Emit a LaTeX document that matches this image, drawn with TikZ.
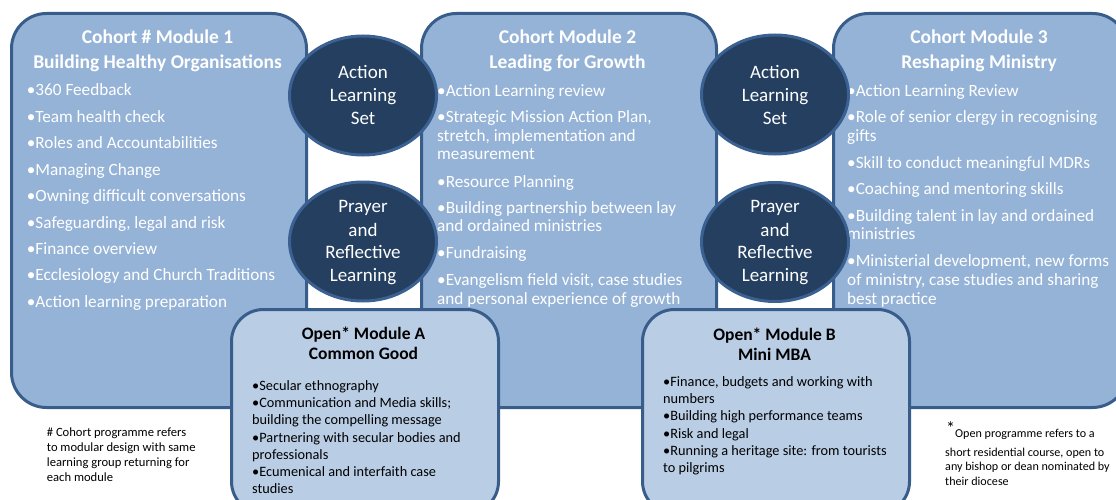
\documentclass[tikz,border=0pt]{standalone}
\usepackage{fontspec}
\setmainfont{Carlito}
\usetikzlibrary{shapes.geometric}
\definecolor{boxfill}{HTML}{95B3D7}
\definecolor{boxbord}{HTML}{385D8A}
\definecolor{ovalfill}{HTML}{243F60}
\definecolor{ovalbord}{HTML}{3A6191}
\definecolor{openfill}{HTML}{B9CDE5}
\tikzset{
  bigbox/.style={rectangle, rounded corners=35pt, draw=boxbord, fill=boxfill, line width=3pt, anchor=north west, inner sep=0pt},
  openbox/.style={rectangle, rounded corners=32pt, draw=boxbord, fill=openfill, line width=3pt, anchor=north west, inner sep=0pt},
  oval/.style={ellipse, draw=ovalbord, fill=ovalfill, line width=3pt, minimum width=147pt, minimum height=119pt, inner sep=0pt},
  wt/.style={text=white, font=\fontsize{17.2}{17.2}\selectfont, inner sep=0pt, anchor=base west},
  hd/.style={text=white, font=\fontsize{19.5}{19.5}\selectfont\bfseries, inner sep=0pt, anchor=base},
  ot/.style={text=white, font=\fontsize{19}{19}\selectfont, inner sep=0pt, anchor=base},
  mh/.style={text=black, font=\fontsize{17.5}{17.5}\selectfont\bfseries, inner sep=0pt, anchor=base},
  mt/.style={text=black, font=\fontsize{14.3}{14.3}\selectfont, inner sep=0pt, anchor=base west},
  fn/.style={text=black, font=\fontsize{12.6}{12.6}\selectfont, inner sep=0pt, anchor=base west},
  fnr/.style={fn, font=\fontsize{12.1}{12.1}\selectfont}
}
\begin{document}
\begin{tikzpicture}[x=1pt,y=-1pt]
\useasboundingbox (0,0) rectangle (1116,500);
% big boxes
\node[bigbox, minimum width=295pt, minimum height=394pt] (m1) at (10,12) {};
\node[bigbox, minimum width=295pt, minimum height=394pt] (m2) at (420,12) {};
\node[bigbox, minimum width=294pt, minimum height=394pt] (m3) at (832,12) {};
% headings
\node[hd] (h1a) at (157.5,43.5) {Cohort \# Module 1};
\node[hd] (h1b) at (157.5,69) {Building Healthy Organisations};
\node[hd] (h2a) at (567.5,43.5) {Cohort Module 2};
\node[hd] (h2b) at (567.5,69) {Leading for Growth};
\node[hd] (h3a) at (979,43.5) {Cohort Module 3};
\node[hd] (h3b) at (979,69) {Reshaping Ministry};
% box 1 list
\foreach \y/\t [count=\i] in {96/{•360 Feedback},122.4/{•Team health check},148.8/{•Roles and Accountabilities},175.2/{•Managing Change},201.6/{•Owning difficult conversations},228/{•Safeguarding, legal and risk},254.4/{•Finance overview},280.8/{•Ecclesiology and Church Traditions},307.2/{•Action learning preparation}}
  \node[wt] (a\i) at (26.7,\y) {\t};
% box 2 list
\foreach \y/\t [count=\i] in {96.7/{•Action Learning review},123/{•Strategic Mission Action Plan,},141.5/{stretch, implementation and},160/{measurement},187/{•Resource Planning},213/{•Building partnership between lay},231.5/{and ordained ministries},258.5/{•Fundraising},285/{•Evangelism field visit, case studies},304/{and personal experience of growth}}
  \node[wt] (b\i) at (437,\y) {\t};
% box 3 list
\foreach \y/\t [count=\i] in {96.7/{•Action Learning Review},123/{•Role of senior clergy in recognising},141.7/{gifts},168.3/{•Skill to conduct meaningful MDRs},194.3/{•Coaching and mentoring skills},221/{•Building talent in lay and ordained},239/{ministries},266.7/{•Ministerial development, new forms},285/{of ministry, case studies and sharing},304/{best practice}}
  \node[wt] (c\i) at (847,\y) {\t};
% ovals
\node[oval] (o1) at (363,95.5) {};
\node[oval] (o2) at (363,241.5) {};
\node[oval] (o3) at (775,94.5) {};
\node[oval] (o4) at (775,242) {};
\foreach \cx/\n in {363/p,775/q}{
  \node[ot] (\n1) at (\cx,78.3) {Action};
  \node[ot] (\n2) at (\cx,101.5) {Learning};
  \node[ot] (\n3) at (\cx,124.3) {Set};
  \node[ot] (\n4) at (\cx,212.7) {Prayer};
  \node[ot] (\n5) at (\cx,236) {and};
  \node[ot] (\n6) at (\cx,258.3) {Reflective};
  \node[ot] (\n7) at (\cx,281.7) {Learning};
}
% open modules
\node[openbox, minimum width=267pt, minimum height=204pt] (oa) at (230,308) {};
\node[openbox, minimum width=267pt, minimum height=204pt] (ob) at (641,308) {};
\node[mh] (oah1) at (363.5,339.3) {Open* Module A};
\node[mh] (oah2) at (363.5,359.3) {Common Good};
\node[mh] (obh1) at (774.5,340) {Open* Module B};
\node[mh] (obh2) at (774.5,360) {Mini MBA};
\foreach \y/\t [count=\i] in {390.7/{•Secular ethnography},407.8/{•Communication and Media skills;},424.9/{building the compelling message},442/{•Partnering with secular bodies and},459.1/{professionals},476.2/{•Ecumenical and interfaith case},493.3/{studies}}
  \node[mt] (d\i) at (252,\y) {\t};
\foreach \y/\t [count=\i] in {386/{•Finance, budgets and working with},403.2/{numbers},420.6/{•Building high performance teams},438/{•Risk and legal},455.5/{•Running a heritage site: from tourists},472.7/{to pilgrims}}
  \node[mt] (e\i) at (663,\y) {\t};
% footnotes
\foreach \y/\t [count=\i] in {436/{\# Cohort programme refers},451/{to modular design with same},466/{learning group returning for},481/{each module}}
  \node[fn] (f\i) at (46.7,\y) {\t};
\node[fn, font=\fontsize{18}{18}\selectfont] (g0) at (946,434) {*};
\node[fnr] (g1) at (955,437.7) {Open programme refers to a};
\foreach \y/\t [count=\i from 2] in {456/{short residential course, open to},470.5/{any bishop or dean nominated by},485/{their diocese}}
  \node[fnr] (g\i) at (945,\y) {\t};
\end{tikzpicture}
\end{document}
